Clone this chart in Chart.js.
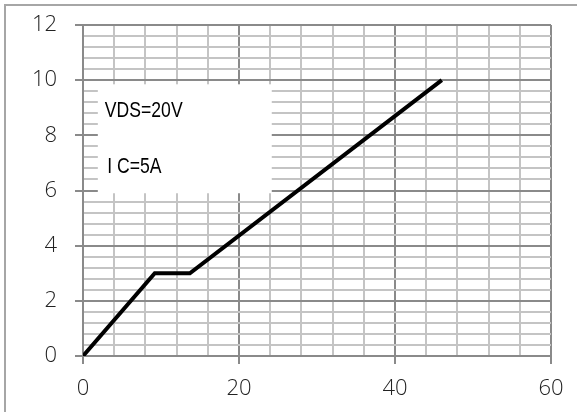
<!DOCTYPE html>
<html>
<head>
<meta charset="utf-8">
<script src="https://cdn.jsdelivr.net/npm/chart.js@4.4.1/dist/chart.umd.min.js"></script>
<style>
  html, body { margin: 0; padding: 0; background: #fff; }
  #wrap { width: 577px; height: 412px; position: relative; }
</style>
</head>
<body>
<div id="wrap"><canvas id="c" width="577" height="412"></canvas></div>
<script>
// ---- data ----
const xValues = [0, 9.2, 13.7, 46];
const yValues = [0, 3, 3, 10];
const xTickLabels = [0, 20, 40, 60];
const yTickLabels = [0, 2, 4, 6, 8, 10, 12];
const noteLines = ["VDS=20V", "I C=5A"];

const points = xValues.map((x, i) => ({ x: x, y: yValues[i] }));

const MAJOR = '#8a8a8a';
const MINOR = '#c4c4c4';

const framePlugin = {
  id: 'frame',
  beforeDraw(chart) {
    const ctx = chart.ctx;
    ctx.save();
    ctx.fillStyle = '#fff';
    ctx.fillRect(0, 0, chart.width, chart.height);
    ctx.strokeStyle = '#a6a6a6';
    ctx.lineWidth = 2;
    ctx.beginPath();
    ctx.moveTo(5, chart.height);
    ctx.lineTo(5, 5);
    ctx.lineTo(chart.width, 5);
    ctx.stroke();
    ctx.restore();
  }
};

const notePlugin = {
  id: 'note',
  beforeDatasetsDraw(chart, args, opts) {
    const xs = chart.scales.x, ys = chart.scales.y;
    const ctx = chart.ctx;
    ctx.save();
    const l = xs.getPixelForValue(opts.box[0]);
    const r = xs.getPixelForValue(opts.box[1]);
    const t = ys.getPixelForValue(opts.box[2]);
    const b = ys.getPixelForValue(opts.box[3]);
    ctx.fillStyle = '#fff';
    ctx.fillRect(l, t, r - l, b - t);
    ctx.fillStyle = '#000';
    ctx.font = "22px 'Liberation Sans', Arial, sans-serif";
    ctx.textAlign = 'left';
    ctx.textBaseline = 'alphabetic';
    noteLines.forEach((txt, i) => {
      const p = opts.textPos[i];
      const px = xs.getPixelForValue(p[0]);
      const py = ys.getPixelForValue(p[1]);
      ctx.save();
      ctx.translate(px, py);
      ctx.scale(0.8, 1);
      ctx.fillText(txt, 0, 0);
      ctx.restore();
    });
    ctx.restore();
  }
};

new Chart(document.getElementById('c'), {
  type: 'scatter',
  data: {
    datasets: [{
      data: points,
      showLine: true,
      borderColor: '#000',
      borderWidth: 4,
      pointRadius: 0,
      pointHoverRadius: 0,
      fill: false,
      tension: 0
    }]
  },
  options: {
    responsive: false,
    animation: false,
    devicePixelRatio: 1,
    layout: { padding: { left: 0, right: 26, top: 25, bottom: 0 } },
    plugins: {
      legend: { display: false },
      tooltip: { enabled: false },
      note: { box: [1.9, 24.2, 9.85, 5.9], textPos: [[2.8, 8.67], [3.1, 6.64]] }
    },
    scales: {
      x: {
        type: 'linear',
        min: 0, max: 60,
        afterFit(s) { s.height = 56; s.paddingLeft = 0; s.paddingRight = 0; },
        border: { display: true, color: MAJOR, width: 2 },
        grid: {
          lineWidth: 2,
          tickLength: 8,
          color: c => (c.tick && xTickLabels.includes(c.tick.value)) ? MAJOR : MINOR,
          tickColor: c => (c.tick && xTickLabels.includes(c.tick.value)) ? MAJOR : 'rgba(0,0,0,0)'
        },
        ticks: {
          stepSize: 4,
          autoSkip: false,
          maxRotation: 0,
          padding: 12,
          color: '#222',
          font: { family: "'Open Sans', sans-serif", size: 22, weight: 300 },
          callback: v => xTickLabels.includes(v) ? String(v) : ''
        }
      },
      y: {
        type: 'linear',
        min: 0, max: 12,
        afterFit(s) { s.width = 83; s.paddingTop = 0; s.paddingBottom = 0; },
        border: { display: true, color: MAJOR, width: 2 },
        grid: {
          lineWidth: 2,
          tickLength: 8,
          color: c => (c.tick && yTickLabels.includes(Math.round(c.tick.value * 10) / 10)) ? MAJOR : MINOR,
          tickColor: c => (c.tick && yTickLabels.includes(Math.round(c.tick.value * 10) / 10)) ? MAJOR : 'rgba(0,0,0,0)'
        },
        ticks: {
          stepSize: 0.4,
          autoSkip: false,
          padding: 18,
          color: '#222',
          font: { family: "'Open Sans', sans-serif", size: 22, weight: 300 },
          callback: v => {
            const r = Math.round(v * 10) / 10;
            return yTickLabels.includes(r) ? String(r) : '';
          }
        }
      }
    }
  },
  plugins: [framePlugin, notePlugin]
});
</script>
</body>
</html>
